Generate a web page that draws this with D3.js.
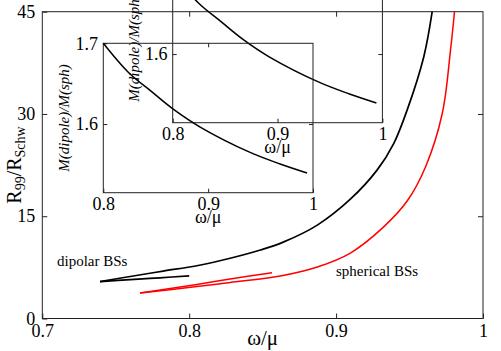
<!DOCTYPE html>
<html>
<head>
<meta charset="utf-8">
<script src="https://cdn.jsdelivr.net/npm/d3@7"></script>
<style>
body{margin:0;background:#fff;}
svg text{font-family:"Liberation Serif","Times New Roman",serif;fill:#000;}
</style>
</head>
<body>
<svg id="chart" width="501" height="351"></svg>
<script>

// dipolar BSs, R99/Rschw vs omega/mu (two branches from the turning point)
var dipLowW = [0.7393, 0.76, 0.78, 0.80];
var dipLowR = [5.42, 5.70, 5.97, 6.25];
var dipUpW  = [0.7393, 0.7598, 0.7823, 0.8052, 0.8279, 0.8484, 0.864, 0.8872, 0.9097, 0.928, 0.9393, 0.9484, 0.9597, 0.9654];
var dipUpR  = [5.42, 6.16, 6.96, 7.74, 8.83, 10.04, 11.2, 13.7, 17.5, 21.8, 25.7, 30.6, 38.4, 45];

// spherical BSs
var sphLowW = [0.7666, 0.8052, 0.8279, 0.8564];
var sphLowR = [3.74, 4.99, 5.79, 6.72];
var sphUpW  = [0.7666, 0.8052, 0.8279, 0.862, 0.8872, 0.9097, 0.9322, 0.9486, 0.9610, 0.9723, 0.9779, 0.9806];
var sphUpR  = [3.74, 4.69, 5.28, 6.23, 7.55, 9.6, 13.4, 17.3, 22.3, 30.1, 39.4, 45];

// inset: M(dipole)/M(sph)
var insW = [0.8, 0.8238, 0.8467, 0.8667, 0.8924, 0.94, 0.9686, 0.9943];
var insM = [1.7, 1.6642, 1.6395, 1.6185, 1.5963, 1.5649, 1.5506, 1.5395];

var xTicks = [0.7, 0.8, 0.9, 1];
var yTicks = [0, 15, 30, 45];
var insXTicks = [0.8, 0.9, 1];
var insYTicks = [1.6, 1.7];

function zip(a, b){ return a.map(function(v,i){ return [v, b[i]]; }); }

var svg = d3.select("#chart");
svg.append("rect").attr("width",501).attr("height",351).attr("fill","#fff");

var MAIN = {left:42.3, right:483, top:11.7, bottom:318.5};
var x = d3.scaleLinear().domain([0.7,1]).range([MAIN.left, MAIN.right]);
var y = d3.scaleLinear().domain([0,45]).range([MAIN.bottom, MAIN.top]);
var fmt = d3.format("");

function styleAxis(g, size){
    g.select(".domain").remove();
    g.attr("font-family", null).attr("font-size", size);
    g.selectAll("line").attr("stroke","#222");
}

// main axes
svg.append("g").attr("transform","translate(0,"+MAIN.bottom+")")
    .call(d3.axisBottom(x).tickValues(xTicks).tickFormat(fmt).tickSizeInner(-5).tickSizeOuter(0).tickPadding(5.5))
    .call(styleAxis, 18);
svg.append("g").attr("transform","translate("+MAIN.left+",0)")
    .call(d3.axisLeft(y).tickValues(yTicks).tickFormat(fmt).tickSizeInner(-5).tickSizeOuter(0).tickPadding(7))
    .call(styleAxis, 18);
svg.append("g").attr("transform","translate(0,"+MAIN.top+")")
    .call(d3.axisTop(x).tickValues([0.8,0.9]).tickFormat("").tickSizeInner(-5).tickSizeOuter(0))
    .call(styleAxis, 18);
svg.append("g").attr("transform","translate("+MAIN.right+",0)")
    .call(d3.axisRight(y).tickValues([15,30]).tickFormat("").tickSizeInner(-5).tickSizeOuter(0))
    .call(styleAxis, 18);

svg.append("rect")
    .attr("x",MAIN.left).attr("y",MAIN.top)
    .attr("width",MAIN.right-MAIN.left).attr("height",MAIN.bottom-MAIN.top)
    .attr("fill","none").attr("stroke","#222").attr("stroke-width",1);

var line = d3.line()
    .x(function(d){return x(d[0]);})
    .y(function(d){return y(d[1]);})
    .curve(d3.curveCatmullRom.alpha(0.5));

var curves = [
    {d: zip(dipLowW, dipLowR), c:"#000", w:1.7},
    {d: zip(dipUpW, dipUpR),   c:"#000", w:1.7},
    {d: zip(sphLowW, sphLowR), c:"#ff0000", w:1.5},
    {d: zip(sphUpW, sphUpR),   c:"#ff0000", w:1.5}
];
svg.selectAll(".curve").data(curves).enter().append("path")
    .attr("class","curve")
    .attr("d", function(d){return line(d.d);})
    .attr("fill","none")
    .attr("stroke", function(d){return d.c;})
    .attr("stroke-width", function(d){return d.w;});

svg.append("text").attr("x",57).attr("y",265.5).attr("font-size",15).text("dipolar BSs");
svg.append("text").attr("x",336).attr("y",276).attr("font-size",15).text("spherical BSs");

// axis titles
svg.append("text").attr("x",262.6).attr("y",345).attr("text-anchor","middle").attr("font-size",21).text("ω/μ");
var yl = svg.append("text")
    .attr("transform","translate(21,165) rotate(-90)")
    .attr("text-anchor","middle").attr("font-size",20);
yl.append("tspan").text("R");
yl.append("tspan").attr("font-size",14).attr("dy",4).text("99");
yl.append("tspan").attr("dy",-4).text("/R");
yl.append("tspan").attr("font-size",14).attr("dy",4).text("Schw");

// inset (drawn twice: a shifted copy sits behind the real one)
function drawInset(ox, oy){
    var IW = 209.7, IH = 149.4;
    var g = svg.append("g").attr("transform","translate("+ox+","+oy+")");
    var xi = d3.scaleLinear().domain([0.8,1]).range([0,IW]);
    var yi = d3.scaleLinear().domain([1.515,1.7]).range([IH,0]);

    g.append("g").attr("transform","translate(0,"+IH+")")
        .call(d3.axisBottom(xi).tickValues(insXTicks).tickFormat(fmt).tickSizeInner(-4).tickSizeOuter(0).tickPadding(4.6))
        .call(styleAxis, 18);
    g.append("g")
        .call(d3.axisLeft(yi).tickValues(insYTicks).tickFormat(fmt).tickSizeInner(-4).tickSizeOuter(0).tickPadding(5.3))
        .call(styleAxis, 18);
    g.append("g")
        .call(d3.axisTop(xi).tickValues([0.9]).tickFormat("").tickSizeInner(-4).tickSizeOuter(0))
        .call(styleAxis, 18);
    g.append("g").attr("transform","translate("+IW+",0)")
        .call(d3.axisRight(yi).tickValues([1.6]).tickFormat("").tickSizeInner(-4).tickSizeOuter(0))
        .call(styleAxis, 18);
    g.append("rect").attr("width",IW).attr("height",IH)
        .attr("fill","none").attr("stroke","#222").attr("stroke-width",1);

    var li = d3.line()
        .x(function(d){return xi(d[0]);})
        .y(function(d){return yi(d[1]);})
        .curve(d3.curveCatmullRom.alpha(0.5));
    g.append("path").attr("d", li(zip(insW, insM)))
        .attr("fill","none").attr("stroke","#000").attr("stroke-width",1.5);

    g.append("text").attr("x",IW/2).attr("y",IH+30).attr("text-anchor","middle")
        .attr("font-size",18).text("ω/μ");
    g.append("text").attr("transform","translate(-34,"+(IH/2)+") rotate(-90)")
        .attr("text-anchor","middle").attr("font-size",15).attr("font-style","italic")
        .text("M(dipole)/M(sph)");
}
drawInset(172.7, -26.7);
drawInset(103.3, 43.3);

</script>
</body>
</html>
